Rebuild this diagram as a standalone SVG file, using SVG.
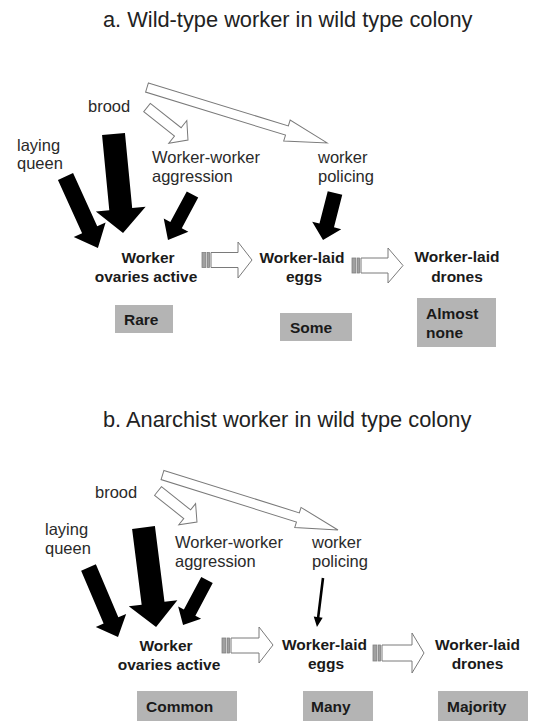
<svg xmlns="http://www.w3.org/2000/svg" width="537" height="721" viewBox="0 0 537 721">
<style>
text{font-family:"Liberation Sans",Arial,Helvetica,sans-serif;fill:#222}
.title{font-size:21.8px}
.lab{font-size:16.5px;fill:#2a2a2a}
.bold{font-size:15.5px;font-weight:bold;fill:#1a1a1a}
.mid{text-anchor:middle}
.box{fill:#b4b4b4}
.blk{fill:#000}
.wht{fill:#fff;stroke:#7a7a7a;stroke-width:1}
.bar{fill:#a0a0a0;stroke:#808080;stroke-width:0.8}
</style>
<rect width="537" height="721" fill="#fff"/>

<!-- Panel a -->
<g id="title-a"><text class="title" x="103" y="27">a. Wild-type worker in wild type colony</text></g>
<g id="a-brood"><text class="lab" x="88" y="111.5">brood</text></g>
<g id="a-queen"><text class="lab" x="17" y="151">laying</text><text class="lab" x="17" y="169">queen</text></g>
<g id="a-aggression"><text class="lab" x="152" y="163">Worker-worker</text><text class="lab" x="152" y="182">aggression</text></g>
<g id="a-policing"><text class="lab" x="318" y="163">worker</text><text class="lab" x="318" y="182">policing</text></g>
<g id="a-ovaries"><text class="bold mid" x="148" y="263">Worker</text><text class="bold mid" x="146" y="282">ovaries active</text></g>
<g id="a-eggs"><text class="bold mid" x="302" y="263">Worker-laid</text><text class="bold mid" x="304" y="282">eggs</text></g>
<g id="a-drones"><text class="bold mid" x="457" y="262">Worker-laid</text><text class="bold mid" x="457" y="282">drones</text></g>
<g id="a-rare"><rect class="box" x="115" y="305" width="58" height="28"/><text class="bold" x="124" y="325">Rare</text></g>
<g id="a-some"><rect class="box" x="280" y="313" width="72" height="28"/><text class="bold" x="290" y="333">Some</text></g>
<g id="a-almostnone"><rect class="box" x="417" y="298" width="79" height="49"/><text class="bold" x="426" y="319">Almost</text><text class="bold" x="426" y="338">none</text></g>

<!-- Panel b -->
<g id="title-b"><text class="title" x="103" y="427">b. Anarchist worker in wild type colony</text></g>
<g id="b-brood"><text class="lab" x="95" y="498">brood</text></g>
<g id="b-queen"><text class="lab" x="45" y="535">laying</text><text class="lab" x="45" y="554">queen</text></g>
<g id="b-aggression"><text class="lab" x="175" y="548">Worker-worker</text><text class="lab" x="175" y="567">aggression</text></g>
<g id="b-policing"><text class="lab" x="312" y="548">worker</text><text class="lab" x="312" y="567">policing</text></g>
<g id="b-ovaries"><text class="bold mid" x="166" y="651">Worker</text><text class="bold mid" x="169" y="670">ovaries active</text></g>
<g id="b-eggs"><text class="bold mid" x="324.5" y="650">Worker-laid</text><text class="bold mid" x="326" y="669">eggs</text></g>
<g id="b-drones"><text class="bold mid" x="477.5" y="650">Worker-laid</text><text class="bold mid" x="477.5" y="669">drones</text></g>
<g id="b-common"><rect class="box" x="137" y="691" width="100" height="30"/><text class="bold" x="146" y="712">Common</text></g>
<g id="b-many"><rect class="box" x="303" y="691" width="70" height="30"/><text class="bold" x="311" y="712">Many</text></g>
<g id="b-majority"><rect class="box" x="438" y="691" width="90" height="30"/><text class="bold" x="447" y="712">Majority</text></g>

<g id="connectors">
  <!-- panel a black arrows -->
  <polygon class="blk" transform="translate(65.5,176.5) rotate(65.6)" points="0,-8.3 58.5,-8.3 58.5,-17.5 78.5,0 58.5,17.5 58.5,8.3 0,8.3"/>
  <polygon class="blk" transform="translate(113.5,134) rotate(84.5)" points="0,-11.5 75.5,-11.5 75.5,-25 99.5,0 75.5,25 75.5,11.5 0,11.5"/>
  <polygon class="blk" transform="translate(192.5,194.5) rotate(118.3)" points="0,-6.5 34.7,-6.5 34.7,-14 51.7,0 34.7,14 34.7,6.5 0,6.5"/>
  <polygon class="blk" transform="translate(335,193) rotate(104.3)" points="0,-7.5 33.5,-7.5 33.5,-15 48.5,0 33.5,15 33.5,7.5 0,7.5"/>
  <!-- panel a outline arrows -->
  <polygon class="wht" transform="translate(147,87.5) rotate(17.1)" points="0,-4.8 146.4,-4.8 146.4,-11 188.4,0 146.4,11 146.4,4.8 0,4.8"/>
  <polygon class="wht" transform="translate(147,107.5) rotate(38.4)" points="0,-5.3 39.3,-5.3 39.3,-14.5 52.3,0 39.3,14.5 39.3,5.3 0,5.3"/>
  <g>
    <rect class="bar" x="202" y="252.5" width="4" height="15"/><rect class="bar" x="207.5" y="252.5" width="2" height="15"/>
    <polygon class="wht" points="211,252.5 238,252.5 238,242 252,260 238,278 238,267.5 211,267.5"/>
  </g>
  <g>
    <rect class="bar" x="352" y="258" width="4" height="15"/><rect class="bar" x="357.5" y="258" width="2" height="15"/>
    <polygon class="wht" points="361,258 388,258 388,248 403,265.5 388,283 388,273 361,273"/>
  </g>
  <!-- panel b black arrows -->
  <polygon class="blk" transform="translate(88.5,567.5) rotate(67)" points="0,-8 57.5,-8 57.5,-16.5 75.5,0 57.5,16.5 57.5,8 0,8"/>
  <polygon class="blk" transform="translate(143.5,527.5) rotate(82.8)" points="0,-11.5 76.3,-11.5 76.3,-24.5 100.3,0 76.3,24.5 76.3,11.5 0,11.5"/>
  <polygon class="blk" transform="translate(207,580) rotate(118)" points="0,-6.5 37,-6.5 37,-13 51,0 37,13 37,6.5 0,6.5"/>
  <polygon class="blk" transform="translate(323,578) rotate(97)" points="0,-1.3 39.4,-1.3 39.4,-4.5 49.4,0 39.4,4.5 39.4,1.3 0,1.3"/>
  <!-- panel b outline arrows -->
  <polygon class="wht" transform="translate(162.5,475) rotate(17.4)" points="0,-4.8 141.9,-4.8 141.9,-10.5 183.9,0 141.9,10.5 141.9,4.8 0,4.8"/>
  <polygon class="wht" transform="translate(158,491) rotate(38.5)" points="0,-5.5 37.3,-5.5 37.3,-13.5 49.8,0 37.3,13.5 37.3,5.5 0,5.5"/>
  <g>
    <rect class="bar" x="222" y="638" width="4" height="15"/><rect class="bar" x="227.5" y="638" width="2" height="15"/>
    <polygon class="wht" points="231,638 259,638 259,627 273,645 259,663 259,653 231,653"/>
  </g>
  <g>
    <rect class="bar" x="373" y="645" width="4" height="16"/><rect class="bar" x="378.5" y="645" width="2" height="16"/>
    <polygon class="wht" points="382,645 412,645 412,633 424,653 412,673 412,661 382,661"/>
  </g>
</g>
</svg>
